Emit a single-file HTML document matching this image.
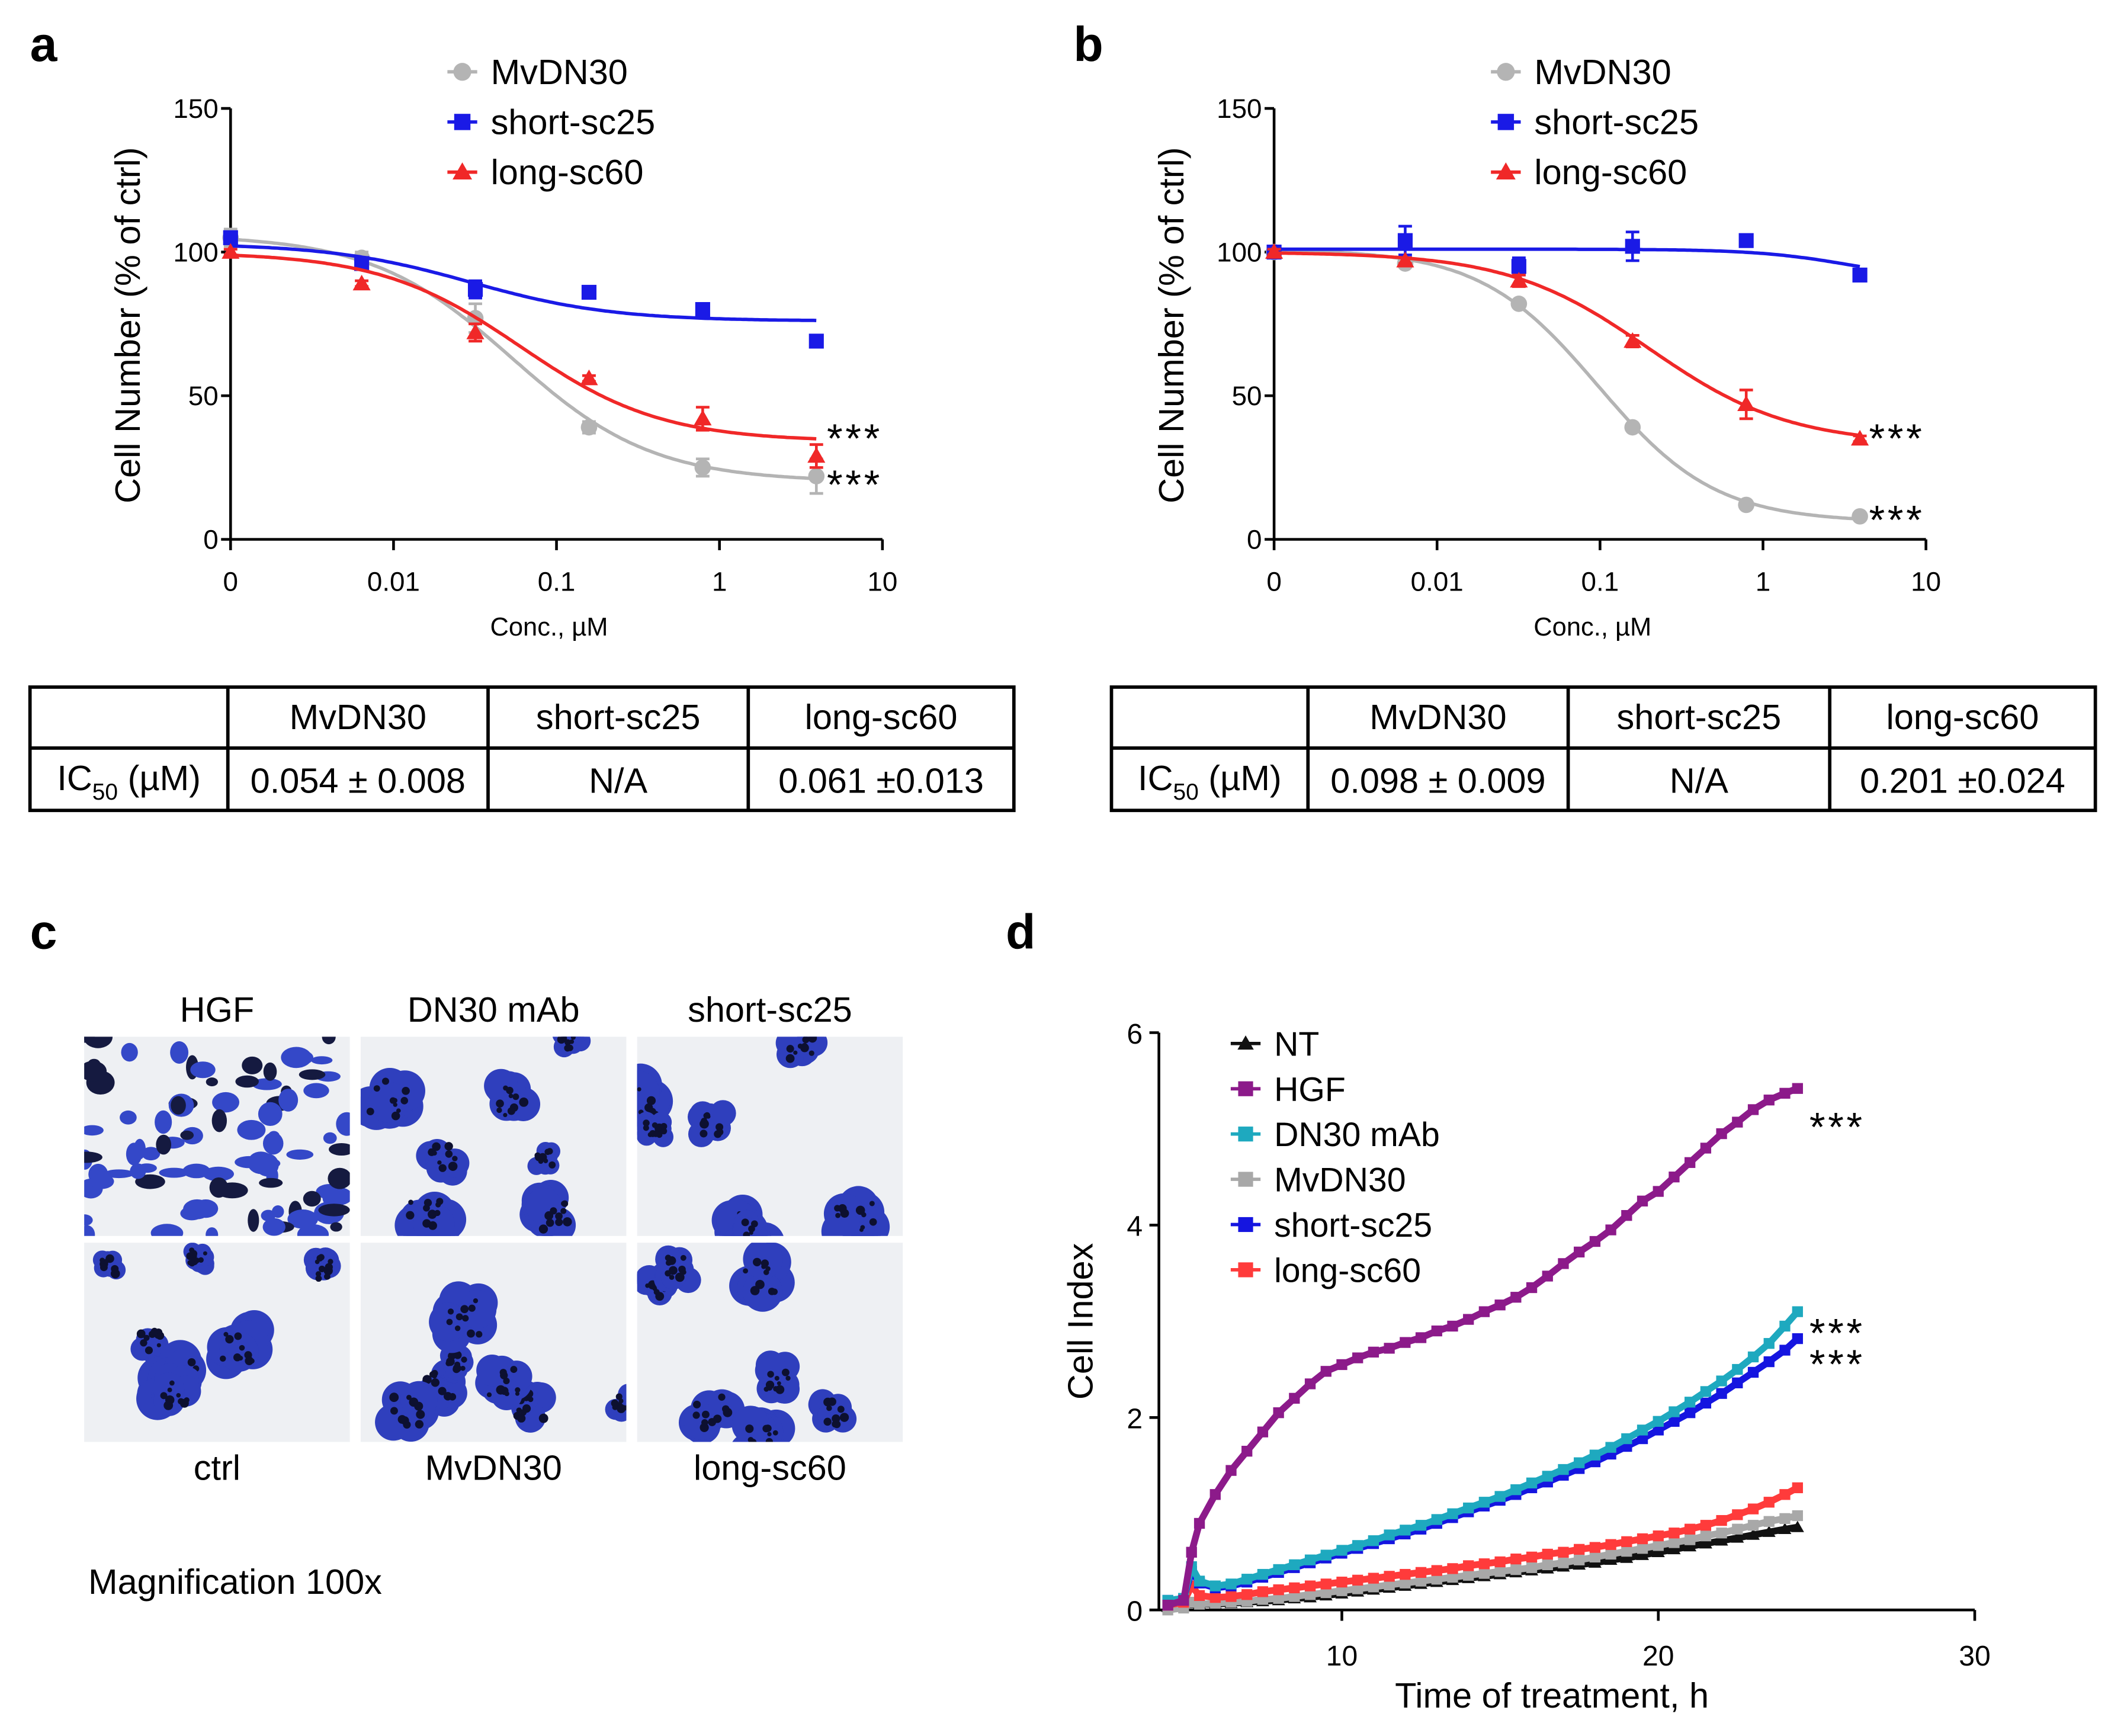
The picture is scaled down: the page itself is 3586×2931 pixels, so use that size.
<!DOCTYPE html>
<html><head><meta charset="utf-8">
<style>
html,body{margin:0;padding:0;background:#fff;}
svg{display:block;font-family:"Liberation Sans",sans-serif;}
</style></head>
<body>
<svg id="fig" width="3586" height="2931" viewBox="0 0 1567 1281" xmlns="http://www.w3.org/2000/svg">
<rect width="1567" height="1281" fill="#fff"/>
<g id="gA"></g>
<g id="gB"></g>
<g id="gC"></g>
<g id="gD"></g>
</svg>
<script>
// ---- panel a/b data ----
const doseConc = [0, 0.0064, 0.032, 0.16, 0.8, 4];
const doseTickLabels = ["0","0.01","0.1","1","10"];
const yTicksAB = [0,50,100,150];
const aMv = [105, 98, 77, 39, 25, 22];
const aShort = [105, 96, 87, 86, 80, 69];
const aLong = [100, 89, 72, 56, 42, 29];
const aMvErr = [3, 2, 5, 2, 3, 6];
const aShortErr = [2, 2, 3, 1, 2, 1];
const aLongErr = [1, 1, 3, 1, 4, 4];
const bMv = [100, 96, 82, 39, 12, 8];
const bShort = [100, 104, 95, 102, 104, 92];
const bLong = [100, 97, 90, 69, 47, 35];
const bMvErr = [1, 1, 1, 1, 1, 1];
const bShortErr = [1, 5, 3, 5, 2, 1];
const bLongErr = [1, 1, 2, 2, 5, 1];
// fit params: top, bottom, ic50, hill
const aMvFit = [106, 20, 0.054, 1.0];
const aShortFit = [103, 76, 0.03, 1.0];
const aLongFit = [100, 34, 0.061, 1.0];
const bMvFit = [101, 6, 0.098, 1.2];
const bShortFit = [101, 90, 3.5, 1.5];
const bLongFit = [100, 33, 0.201, 1.0];
// ---- panel d data ----
const dTimes = [4.5,5,5.25,5.5,6,6.5,7,7.5,8,8.5,9,9.5,10,10.5,11,11.5,12,12.5,13,13.5,14,14.5,15,15.5,16,16.5,17,17.5,18,18.5,19,19.5,20,20.5,21,21.5,22,22.5,23,23.5,24,24.4];
const dNT = [0.03,0.05,0.07,0.06,0.06,0.07,0.08,0.09,0.1,0.12,0.13,0.15,0.17,0.19,0.21,0.23,0.25,0.27,0.29,0.31,0.33,0.35,0.37,0.39,0.41,0.43,0.45,0.47,0.49,0.52,0.54,0.57,0.6,0.63,0.66,0.69,0.72,0.75,0.78,0.81,0.84,0.86];
const dMv = [0.0,0.02,0.08,0.06,0.07,0.08,0.09,0.11,0.12,0.14,0.16,0.18,0.2,0.22,0.24,0.26,0.28,0.3,0.32,0.34,0.36,0.38,0.4,0.42,0.44,0.47,0.49,0.52,0.55,0.58,0.61,0.64,0.67,0.7,0.73,0.77,0.8,0.84,0.88,0.92,0.95,0.98];
const dLong = [0.05,0.08,0.25,0.15,0.13,0.14,0.16,0.19,0.21,0.23,0.25,0.27,0.29,0.31,0.33,0.35,0.37,0.39,0.41,0.43,0.46,0.48,0.5,0.53,0.55,0.58,0.6,0.63,0.65,0.68,0.71,0.74,0.77,0.8,0.84,0.88,0.93,0.99,1.05,1.12,1.2,1.27];
const dShort = [0.1,0.12,0.4,0.28,0.23,0.25,0.29,0.34,0.39,0.44,0.49,0.54,0.59,0.64,0.69,0.74,0.79,0.84,0.9,0.96,1.02,1.08,1.14,1.2,1.27,1.33,1.4,1.47,1.54,1.62,1.7,1.78,1.87,1.96,2.05,2.15,2.25,2.36,2.47,2.58,2.7,2.82];
const dDN30 = [0.1,0.12,0.45,0.3,0.25,0.27,0.32,0.37,0.42,0.47,0.52,0.57,0.62,0.67,0.72,0.78,0.83,0.88,0.94,1.0,1.06,1.12,1.18,1.25,1.32,1.39,1.46,1.53,1.61,1.69,1.78,1.87,1.96,2.06,2.16,2.27,2.38,2.5,2.63,2.77,2.95,3.1];
const dHGF = [0.05,0.1,0.6,0.9,1.2,1.45,1.65,1.85,2.05,2.2,2.35,2.48,2.55,2.62,2.68,2.72,2.78,2.83,2.9,2.95,3.02,3.1,3.17,3.25,3.35,3.47,3.6,3.72,3.83,3.95,4.1,4.25,4.35,4.5,4.65,4.8,4.95,5.07,5.2,5.3,5.37,5.42];
const dXTicks = [10,20,30];
const dYTicks = [0,2,4,6];

const NS="http://www.w3.org/2000/svg";
function mk(parent, tag, attrs, text){
  const e=document.createElementNS(NS,tag);
  for(const k in attrs) e.setAttribute(k,attrs[k]);
  if(text!==undefined) e.textContent=text;
  parent.appendChild(e); return e;
}
const GRAY="#b4b4b4", BLUE="#1a1ae6", RED="#f02828";

function marker(g, shape, x, y, col, s){
  let e;
  if(shape==="circle") e=mk(g,"circle",{cx:x,cy:y,r:s*0.55,fill:col});
  else if(shape==="square") e=mk(g,"rect",{x:x-s/2,y:y-s/2,width:s,height:s,fill:col});
  else e=mk(g,"polygon",{points:`${x},${y-s*0.6} ${x-s*0.6},${y+s*0.45} ${x+s*0.6},${y+s*0.45}`,fill:col});
  return e;
}

function dosePanel(g, ox, letter, series){
  const y0=398, yTop=80;
  const yS=v=>y0-(v/150)*(y0-yTop);
  const xS=c=> c===0 ? ox : ox+120+(Math.log10(c)+2)*120;
  const L=mk(g,"text",{x:ox-148,y:45,"font-size":36,"font-weight":"bold"},letter);
  
  
  const ax=mk(g,"path",{d:`M${ox} ${yTop}V${y0}H${ox+481}`,stroke:"#000","stroke-width":2,fill:"none"});
  
  
  yTicksAB.forEach(v=>{
    mk(g,"line",{x1:ox-7,x2:ox,y1:yS(v),y2:yS(v),stroke:"#000","stroke-width":2});
    const t=mk(g,"text",{x:ox-9,y:yS(v)+7,"font-size":20,"text-anchor":"end"},String(v));
    
    
  });
  doseTickLabels.forEach((lab,i)=>{
    const x=ox+i*120.25;
    mk(g,"line",{x1:x,x2:x,y1:y0,y2:y0+8,stroke:"#000","stroke-width":2});
    const t=mk(g,"text",{x:x,y:y0+38,"font-size":20,"text-anchor":"middle"},lab);
    
    
  });
  const xt=mk(g,"text",{x:ox+235,y:469,"font-size":19,"text-anchor":"middle"},"Conc., µM");
  
  
  const yt=mk(g,"text",{x:0,y:0,"font-size":26,"text-anchor":"middle",transform:`translate(${ox-67},240) rotate(-90)`},"Cell Number (% of ctrl)");
  
  
  series.forEach(s=>{
    const sg=mk(g,"g",{});
    
    
    const [top,bot,ic,h]=s.fit;
    let d="";
    for(let i=0;i<=200;i++){
      const lx=-3+i*(Math.log10(4)+3)/200;
      const c=Math.pow(10,lx);
      const v=bot+(top-bot)/(1+Math.pow(c/ic,h));
      d+=(i?"L":"M")+xS(c).toFixed(1)+" "+yS(v).toFixed(1);
    }
    const cur=mk(sg,"path",{d:d,stroke:s.col,"stroke-width":2.5,fill:"none"});
    
    
    doseConc.forEach((c,i)=>{
      const x=xS(c), y=yS(s.vals[i]), e=s.err[i];
      mk(sg,"path",{d:`M${x} ${yS(s.vals[i]-e)}V${yS(s.vals[i]+e)}M${x-5} ${yS(s.vals[i]+e)}H${x+5}M${x-5} ${yS(s.vals[i]-e)}H${x+5}`,stroke:s.col,"stroke-width":2});
      const m=marker(sg,s.shape,x,y,s.col,11);
      
      
    });
  });
  const lx=ox+170;
  series.forEach((s,i)=>{
    const y=53+i*37;
    const lg=mk(g,"g",{});
    
    
    mk(lg,"line",{x1:lx-10,x2:lx+12,y1:y,y2:y,stroke:s.col,"stroke-width":2.5});
    marker(lg,s.shape,lx+1,y,s.col,12);
    mk(lg,"text",{x:lx+22,y:y+9,"font-size":26},s.label);
  });
}

function stars(g,x,y){
  const t=mk(g,"text",{x:x,y:y,"font-size":30,"letter-spacing":"2"},"***");
  
  
}

function table(g, x0, cols, vals){
  const y0=507, y1=552, y2=598;
  const tg=mk(g,"g",{});
  
  
  mk(tg,"rect",{x:x0,y:y0,width:726,height:y2-y0,fill:"none",stroke:"#000","stroke-width":2.5});
  mk(tg,"line",{x1:x0,x2:x0+726,y1:y1,y2:y1,stroke:"#000","stroke-width":2.5});
  const xs=[x0,...cols,x0+726];
  cols.forEach(c=>mk(tg,"line",{x1:c,x2:c,y1:y0,y2:y2,stroke:"#000","stroke-width":2.5}));
  const heads=["MvDN30","short-sc25","long-sc60"];
  heads.forEach((h,i)=>{
    const cx=(xs[i+1]+xs[i+2])/2;
    mk(tg,"text",{x:cx,y:538,"font-size":26,"text-anchor":"middle"},h);
    mk(tg,"text",{x:cx,y:585,"font-size":26,"text-anchor":"middle"},vals[i]);
  });
  const r=mk(tg,"text",{x:(xs[0]+xs[1])/2,y:583,"font-size":26,"text-anchor":"middle"});
  r.innerHTML='IC<tspan font-size="17" dy="7">50</tspan><tspan dy="-7"> (µM)</tspan>';
}

const gA=document.getElementById("gA");
dosePanel(gA,170,"a",[
  {name:"mvdn30",label:"MvDN30",vals:aMv,err:aMvErr,fit:aMvFit,col:GRAY,shape:"circle"},
  {name:"short-sc25",label:"short-sc25",vals:aShort,err:aShortErr,fit:aShortFit,col:BLUE,shape:"square"},
  {name:"long-sc60",label:"long-sc60",vals:aLong,err:aLongErr,fit:aLongFit,col:RED,shape:"triangle"}]);
stars(gA,610,334); stars(gA,610,368);
table(gA,22,[168,360,552],["0.054 ± 0.008","N/A","0.061 ±0.013"]);

const gB=document.getElementById("gB");
dosePanel(gB,940,"b",[
  {name:"mvdn30",label:"MvDN30",vals:bMv,err:bMvErr,fit:bMvFit,col:GRAY,shape:"circle"},
  {name:"short-sc25",label:"short-sc25",vals:bShort,err:bShortErr,fit:bShortFit,col:BLUE,shape:"square"},
  {name:"long-sc60",label:"long-sc60",vals:bLong,err:bLongErr,fit:bLongFit,col:RED,shape:"triangle"}]);
stars(gB,1379,334); stars(gB,1379,394);
table(gB,820,[965,1157,1350],["0.098 ± 0.009","N/A","0.201 ±0.024"]);

// ---- panel c: micrographs ----
const gC=document.getElementById("gC");
const cl=mk(gC,"text",{x:22,y:700,"font-size":36,"font-weight":"bold"},"c");


let seed=7; function rnd(){seed=(seed*16807)%2147483647;return seed/2147483647;}
const imgNames=["HGF","DN30 mAb","short-sc25","ctrl","MvDN30","long-sc60"];
const colX=[62,266,470], rowY=[765,917];
imgNames.forEach((n,i)=>{
  const x=colX[i%3], y=rowY[Math.floor(i/3)], w=196, h=147;
  const ig=mk(gC,"g",{});
  
  
  const cid="clip"+i;
  const cp=mk(ig,"clipPath",{id:cid}); mk(cp,"rect",{x:x,y:y,width:w,height:h});
  mk(ig,"rect",{x:x,y:y,width:w,height:h,fill:"#eef0f3"});
  const inner=mk(ig,"g",{"clip-path":`url(#${cid})`});
  const scattered = i===0;
  const nb = scattered? 90 : 7;
  for(let k=0;k<nb;k++){
    const cx=x+rnd()*w, cy=y+rnd()*h;
    if(scattered){
      mk(inner,"ellipse",{cx:cx,cy:cy,rx:4+rnd()*8,ry:3+rnd()*6,fill:rnd()<0.3?"#151a40":"#3448c8"});
    } else {
      const r=12+rnd()*18;
      for(let j=0;j<8;j++) mk(inner,"circle",{cx:cx+(rnd()-0.5)*r,cy:cy+(rnd()-0.5)*r,r:r*0.55,fill:"#2f3fbd"});
      for(let j=0;j<10;j++) mk(inner,"circle",{cx:cx+(rnd()-0.5)*r,cy:cy+(rnd()-0.5)*r,r:1.5+rnd()*2,fill:"#0d1030"});
    }
  }
  const ty = i<3 ? 754 : 1092;
  const t=mk(gC,"text",{x:x+w/2,y:ty,"font-size":26,"text-anchor":"middle"},n);
  
  
});
const mg=mk(gC,"text",{x:65,y:1176,"font-size":26},"Magnification 100x");



// ---- panel d ----
const gD=document.getElementById("gD");
const dl=mk(gD,"text",{x:742,y:700,"font-size":36,"font-weight":"bold"},"d");


const dx=t=>990+(t-10)*23.35, dy=v=>1188-v*71;
const dax=mk(gD,"path",{d:`M855 ${dy(6)}V1188H1457`,stroke:"#000","stroke-width":2,fill:"none"});


dYTicks.forEach(v=>{
  mk(gD,"line",{x1:848,x2:855,y1:dy(v),y2:dy(v),stroke:"#000","stroke-width":2});
  const t=mk(gD,"text",{x:843,y:dy(v)+8,"font-size":21,"text-anchor":"end"},String(v));
  
  
});
dXTicks.forEach(v=>{
  mk(gD,"line",{x1:dx(v),x2:dx(v),y1:1188,y2:1196,stroke:"#000","stroke-width":2});
  const t=mk(gD,"text",{x:dx(v),y:1229,"font-size":21,"text-anchor":"middle"},String(v));
  
  
});
const dxt=mk(gD,"text",{x:1145,y:1260,"font-size":26,"text-anchor":"middle"},"Time of treatment, h");


const dyt=mk(gD,"text",{x:0,y:0,"font-size":26,"text-anchor":"middle",transform:"translate(806,975) rotate(-90)"},"Cell Index");


const dSeries=[
  {name:"nt",label:"NT",vals:dNT,col:"#111",shape:"triangle"},
  {name:"mvdn30",label:"MvDN30",vals:dMv,col:"#a8a8a8",shape:"square"},
  {name:"long-sc60",label:"long-sc60",vals:dLong,col:"#ff3b3b",shape:"square"},
  {name:"short-sc25",label:"short-sc25",vals:dShort,col:"#1515e0",shape:"square"},
  {name:"dn30-mab",label:"DN30 mAb",vals:dDN30,col:"#1ea9bf",shape:"square"},
  {name:"hgf",label:"HGF",vals:dHGF,col:"#8c1a8a",shape:"square"}];
dSeries.forEach(s=>{
  const sg=mk(gD,"g",{});
  
  
  let d="";
  dTimes.forEach((t,i)=>{d+=(i?"L":"M")+dx(t).toFixed(1)+" "+dy(s.vals[i]).toFixed(1);});
  mk(sg,"path",{d:d,stroke:s.col,"stroke-width":5,fill:"none","stroke-linejoin":"round"});
  dTimes.forEach((t,i)=>{
    const m=marker(sg,s.shape,dx(t),dy(s.vals[i]),s.col,8);
    
    
  });
});
const legOrder=[0,5,4,1,3,2];
legOrder.forEach((k,i)=>{
  const s=dSeries[k], y=770+i*33.4;
  const lg=mk(gD,"g",{});
  
  
  mk(lg,"line",{x1:908,x2:930,y1:y,y2:y,stroke:s.col,"stroke-width":2.5});
  marker(lg,s.shape,919,y,s.col,s.shape==="triangle"?10:11);
  mk(lg,"text",{x:940,y:y+9,"font-size":25},s.label);
});
stars(gD,1335,842); stars(gD,1335,994); stars(gD,1335,1017);
</script>
</body></html>
